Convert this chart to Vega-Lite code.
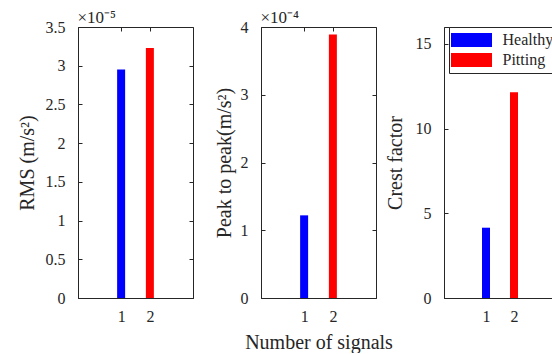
{
  "$schema": "https://vega.github.io/schema/vega-lite/v6.json",
  "padding": {"left": 16, "top": 7, "right": 0, "bottom": 0},
  "data": {"values": [
    {"metric": "RMS", "signal": 1, "condition": "Healthy", "value": 2.95e-5},
    {"metric": "RMS", "signal": 2, "condition": "Pitting", "value": 3.23e-5},
    {"metric": "P2P", "signal": 1, "condition": "Healthy", "value": 1.22e-4},
    {"metric": "P2P", "signal": 2, "condition": "Pitting", "value": 3.89e-4},
    {"metric": "CF", "signal": 1, "condition": "Healthy", "value": 4.15},
    {"metric": "CF", "signal": 2, "condition": "Pitting", "value": 12.15}
  ]},
  "config": {
    "font": "Liberation Serif",
    "view": {"stroke": "#262626", "strokeWidth": 1},
    "style": {"guide-label": {"font": "Liberation Serif"}, "guide-title": {"font": "Liberation Serif"}},
    "axis": {
      "grid": false,
      "minExtent": 0,
      "domainColor": "#262626",
      "tickColor": "#262626",
      "labelColor": "#262626",
      "titleColor": "#262626",
      "labelFont": "Liberation Serif",
      "titleFont": "Liberation Serif",
      "labelFontSize": 16,
      "titleFontSize": 20,
      "titleFontWeight": "normal",
      "tickSize": -4
    },
    "legend": {"labelFont": "Liberation Serif"}
  },
  "resolve": {"scale": {"color": "independent"}, "legend": {"color": "independent"}},
  "bounds": "flush",
  "spacing": 68,
  "hconcat": [
    {
      "width": 115, "height": 271,
      "transform": [{"filter": "datum.metric === 'RMS'"}],
      "layer": [
        {
          "mark": {"type": "bar", "size": 8},
          "encoding": {
            "x": {"field": "signal", "type": "quantitative", "scale": {"domain": [0, 3]},
                  "axis": {"values": [1, 2], "title": null, "labelPadding": 14}},
            "y": {"field": "value", "type": "quantitative", "scale": {"domain": [0, 3.5e-5]},
                  "axis": {"values": [0, 5e-6, 1e-5, 1.5e-5, 2e-5, 2.5e-5, 3e-5, 3.5e-5],
                           "labelExpr": "format(datum.value * 1e5, '.2~f')",
                           "title": "RMS (m/s²)", "labelPadding": 17, "titlePadding": 8}},
            "color": {"field": "condition", "type": "nominal",
                      "scale": {"domain": ["Healthy", "Pitting"], "range": ["#0000ff", "#ff0000"]},
                      "legend": null}
          }
        },
        {
          "mark": {"type": "bar", "size": 8, "opacity": 0},
          "encoding": {
            "x": {"field": "signal", "type": "quantitative",
                  "axis": {"orient": "top", "values": [1, 2], "labels": false, "domain": false,
                           "title": "×10⁻⁵", "titleAnchor": "start", "titleAlign": "left", "titleBaseline": "alphabetic",
                           "titleX": -1, "titleY": -5, "titleFontSize": 17}},
            "y": {"field": "value", "type": "quantitative",
                  "axis": {"orient": "right", "values": [0, 5e-6, 1e-5, 1.5e-5, 2e-5, 2.5e-5, 3e-5, 3.5e-5], "labels": false, "domain": false, "title": null}}
          }
        }
      ],
      "resolve": {"axis": {"x": "independent", "y": "independent"}}
    },
    {
      "width": 115, "height": 271,
      "transform": [{"filter": "datum.metric === 'P2P'"}],
      "layer": [
        {
          "mark": {"type": "bar", "size": 8},
          "encoding": {
            "x": {"field": "signal", "type": "quantitative", "scale": {"domain": [0, 3]},
                  "axis": {"values": [1, 2], "title": "Number of signals", "labelPadding": 14, "titlePadding": 8}},
            "y": {"field": "value", "type": "quantitative", "scale": {"domain": [0, 4e-4]},
                  "axis": {"values": [0, 1e-4, 2e-4, 3e-4, 4e-4],
                           "labelExpr": "format(datum.value * 1e4, '.2~f')",
                           "title": "Peak to peak(m/s²)", "labelPadding": 17, "titlePadding": 6}},
            "color": {"field": "condition", "type": "nominal",
                      "scale": {"domain": ["Healthy", "Pitting"], "range": ["#0000ff", "#ff0000"]},
                      "legend": null}
          }
        },
        {
          "mark": {"type": "bar", "size": 8, "opacity": 0},
          "encoding": {
            "x": {"field": "signal", "type": "quantitative",
                  "axis": {"orient": "top", "values": [1, 2], "labels": false, "domain": false,
                           "title": "×10⁻⁴", "titleAnchor": "start", "titleAlign": "left", "titleBaseline": "alphabetic",
                           "titleX": -1, "titleY": -5, "titleFontSize": 17}},
            "y": {"field": "value", "type": "quantitative",
                  "axis": {"orient": "right", "values": [0, 1e-4, 2e-4, 3e-4, 4e-4], "labels": false, "domain": false, "title": null}}
          }
        }
      ],
      "resolve": {"axis": {"x": "independent", "y": "independent"}}
    },
    {
      "width": 112, "height": 271,
      "transform": [{"filter": "datum.metric === 'CF'"}],
      "layer": [
        {
          "mark": {"type": "bar", "size": 8},
          "encoding": {
            "x": {"field": "signal", "type": "quantitative", "scale": {"domain": [0, 3]},
                  "axis": {"values": [1, 2], "title": null, "labelPadding": 14}},
            "y": {"field": "value", "type": "quantitative", "scale": {"domain": [0, 15]},
                  "axis": {"values": [0, 5, 10, 15], "title": "Crest factor", "labelPadding": 17, "titlePadding": 10}},
            "color": {"field": "condition", "type": "nominal",
                      "scale": {"domain": ["Healthy", "Pitting"], "range": ["#0000ff", "#ff0000"]},
                      "legend": {"orient": "none", "legendX": 5, "legendY": 0, "title": null,
                                 "strokeColor": "#262626", "fillColor": "#ffffff", "padding": 5,
                                 "symbolType": "M-2.93,-1H2.93V1H-2.93Z", "symbolSize": 196,
                                 "symbolOffset": 9.5,
                                 "symbolStrokeWidth": 0, "symbolOpacity": 1,
                                 "labelFont": "Liberation Serif",
                                 "labelFontSize": 16, "labelColor": "#262626", "labelOffset": 23,
                                 "rowPadding": 4}}
          }
        },
        {
          "mark": {"type": "bar", "size": 8, "opacity": 0},
          "encoding": {
            "x": {"field": "signal", "type": "quantitative",
                  "axis": {"orient": "top", "values": [1, 2], "labels": false, "domain": false, "title": null}},
            "y": {"field": "value", "type": "quantitative",
                  "axis": {"orient": "right", "values": [0, 5, 10, 15], "labels": false, "domain": false, "title": null}}
          }
        }
      ],
      "resolve": {"axis": {"x": "independent", "y": "independent"}}
    }
  ]
}
